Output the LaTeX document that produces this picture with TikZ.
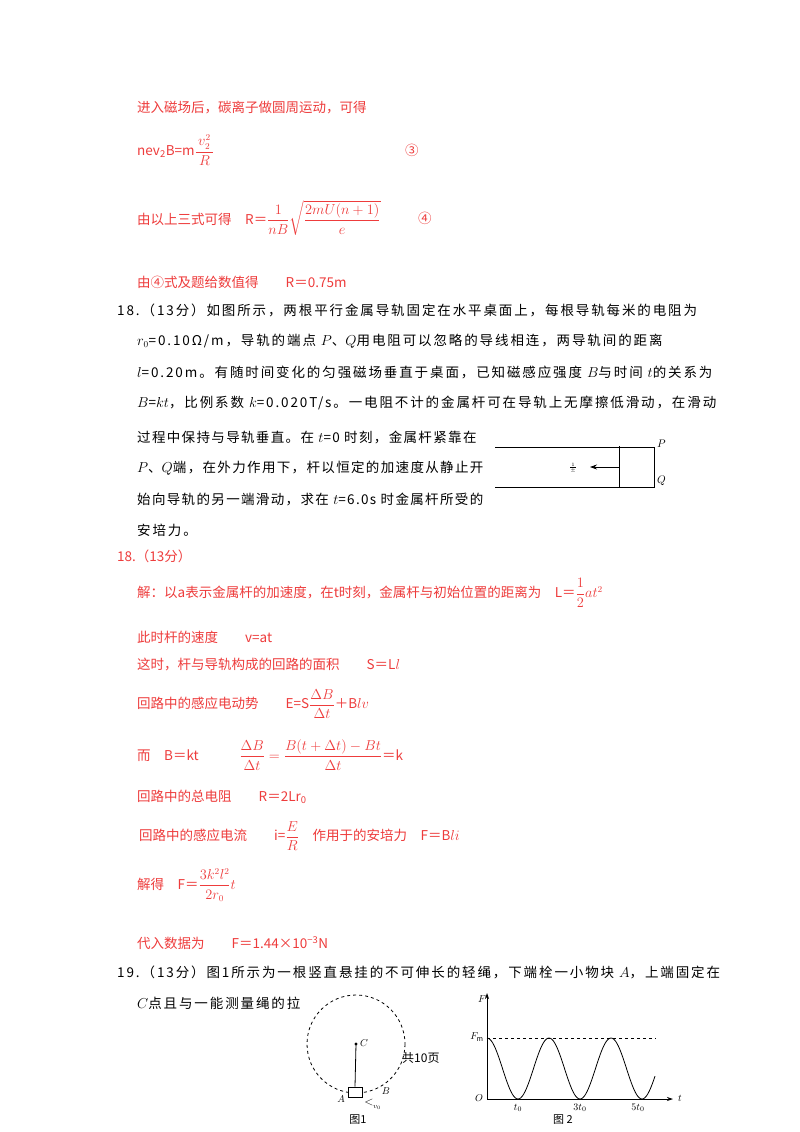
\documentclass[tikz,border=0pt]{standalone}
\usepackage{amsmath}
\usepackage{fontspec}
\setmainfont{Noto Sans CJK SC}
\newfontfamily\wide[LetterSpace=14]{Noto Sans CJK SC}
\newfontfamily\midspace[LetterSpace=10]{Noto Sans CJK SC}
\usetikzlibrary{arrows.meta}
\definecolor{ans}{RGB}{238,60,60}
\begin{document}
\begin{tikzpicture}[x=1pt,y=-1pt,
  r/.style={anchor=west,text=ans,font=\fontsize{13.5}{16}\selectfont,inner sep=0},
  b/.style={anchor=west,text=black,font=\fontsize{13.5}{16}\selectfont\wide,inner sep=0},
  bm/.style={anchor=west,text=black,font=\fontsize{13.5}{16}\selectfont\midspace,inner sep=0},
  lab/.style={inner sep=0,font=\fontsize{10}{12}\selectfont},
  ln/.style={line width=0.8pt}]
\useasboundingbox[fill=white] (0,0) rectangle (800,1132);
\node[r] (l1) at (137,108) {进入磁场后，碳离子做圆周运动，可得};
\node[r] (l2) at (137,150) {nev\textsubscript{2}B=m$\dfrac{\,v_2^2\,}{R}$};
\node[r] (c3) at (405,150) {③};
\node[r] (l3) at (137,218) {由以上三式可得\quad R＝$\dfrac{1}{nB}\sqrt{\dfrac{2mU(n+1)}{e}}$};
\node[r] (c4) at (418,218) {④};
\node[r] (l4) at (137,282) {由④式及题给数值得\qquad R＝0.75m};
\node[b] (p1) at (117,310) {18.（13分）如图所示，两根平行金属导轨固定在水平桌面上，每根导轨每米的电阻为};
\node[b] (p2) at (137,341) {$r_0$=0.10Ω/m，导轨的端点 $P$、$Q$用电阻可以忽略的导线相连，两导轨间的距离};
\node[b] (p3) at (137,372) {$l$=0.20m。有随时间变化的匀强磁场垂直于桌面，已知磁感应强度 $B$与时间 $t$的关系为};
\node[b] (p4) at (137,403) {$B$=$kt$，比例系数 $k$=0.020T/s。一电阻不计的金属杆可在导轨上无摩擦低滑动，在滑动};
\node[bm] (p5) at (137,437) {过程中保持与导轨垂直。在 $t$=0 时刻，金属杆紧靠在};
\node[bm] (p6) at (137,468) {$P$、$Q$端，在外力作用下，杆以恒定的加速度从静止开};
\node[bm] (p7) at (137,499) {始向导轨的另一端滑动，求在 $t$=6.0s 时金属杆所受的};
\node[b] (p8) at (137,530) {安培力。};
% rail figure
\coordinate (tl) at (495,447); \coordinate (tr) at (654,447);
\coordinate (bl) at (495,487); \coordinate (br) at (654,487);
\draw[ln] (tl)--(tr)--(br)--(bl);
\coordinate (rt) at (619,446); \coordinate (rb) at (619,488);
\draw[ln] (rt)--(rb);
\coordinate (rm) at (619,467); \coordinate (am) at (590,467);
\draw[ln,-{Stealth[length=7pt,width=5pt]}] (rm)--(am);
\node[lab,font=\fontsize{7}{7}\selectfont] (one) at (573,468) {$\frac{1}{\pm}$};
\node[lab,anchor=west,font=\fontsize{11}{12}\selectfont] (P) at (657,444) {$P$};
\node[lab,anchor=west,font=\fontsize{11}{12}\selectfont] (Q) at (657,481) {$Q$};
% answer
\node[r] (s0) at (117,556) {18.（13分）};
\node[r] (s1) at (137,593) {解：以a表示金属杆的加速度，在t时刻，金属杆与初始位置的距离为\quad L＝$\dfrac12 at^2$};
\node[r] (s2) at (137,637) {此时杆的速度\qquad v=at};
\node[r] (s3) at (137,665) {这时，杆与导轨构成的回路的面积\qquad S＝L$l$};
\node[r] (s4) at (137,704) {回路中的感应电动势\qquad E=S$\dfrac{\Delta B}{\Delta t}$＋B$lv$};
\node[r] (s5) at (137,755) {而\quad B＝kt\qquad\quad $\dfrac{\Delta B}{\Delta t}=\dfrac{B(t+\Delta t)-Bt}{\Delta t}$＝k};
\node[r] (s6) at (137,797) {回路中的总电阻\qquad R＝2Lr\textsubscript{0}};
\node[r] (s7) at (139,836) {回路中的感应电流\qquad i=$\dfrac{E}{R}$\quad 作用于的安培力\quad F＝B$li$};
\node[r] (s8) at (137,885) {解得\quad F＝$\dfrac{3k^2l^2}{2r_0}t$};
\node[r] (s9) at (137,943) {代入数据为\qquad F＝1.44×10\textsuperscript{−3}N};
\node[b] (q1) at (117,972) {19.（13分）图1所示为一根竖直悬挂的不可伸长的轻绳，下端栓一小物块 $A$，上端固定在};
\node[b] (q2) at (137,1003) {$C$点且与一能测量绳的拉};
% figure 1
\coordinate (C) at (356,1044);
\draw[ln,dashed] (C) circle (49);
\fill (C) circle (1.6);
\node[lab,anchor=west] (Cl) at (360,1043) {$C$};
\node[draw,ln,fill=white,minimum width=14,minimum height=10,inner sep=0] (box) at (355,1092) {};
\draw[ln] (C)--(box.north);
\node[lab] (Al) at (341,1099) {$A$};
\node[lab] (Bl) at (386,1091) {$B$};
\node[lab,font=\fontsize{12}{12}\selectfont\bfseries] (arr) at (369,1102) {$<$};
\node[lab,font=\fontsize{7}{8}\selectfont] (v0) at (377,1107) {$v_0$};
\node[lab,anchor=west,font=\fontsize{12}{14}\selectfont] (pg) at (402,1058) {共10页};
\node[lab,font=\fontsize{11}{12}\selectfont] (f1) at (358,1120) {图1};
% figure 2
\coordinate (O) at (487,1099);
\coordinate (Yt) at (487,993);
\coordinate (Xt) at (673,1099);
\draw[ln,-{Stealth[length=6pt,width=4pt]}] (O)--(Yt);
\draw[ln,-{Stealth[length=6pt,width=4pt]}] (O)--(Xt);
\coordinate (Fm) at (487,1038); \coordinate (Fe) at (656,1038);
\draw[ln,dashed] (Fm)--(Fe);
\draw[ln,domain=0:168,samples=120,smooth] plot ({487+\x},{1068.5-30.5*cos(5.80645*\x)});
\node[lab] (Fl) at (482,999) {$F$};
\node[lab] (Fml) at (477,1037) {$F_{\mathrm m}$};
\node[lab] (Ol) at (479,1098) {$O$};
\node[lab] (tlab) at (680,1098) {$t$};
\node[lab] (t1) at (518,1108) {$t_0$};
\node[lab] (t3) at (580,1108) {$3t_0$};
\node[lab] (t5) at (638,1108) {$5t_0$};
\node[lab,font=\fontsize{11}{12}\selectfont] (f2) at (563,1120) {图 2};
\end{tikzpicture}
\end{document}
